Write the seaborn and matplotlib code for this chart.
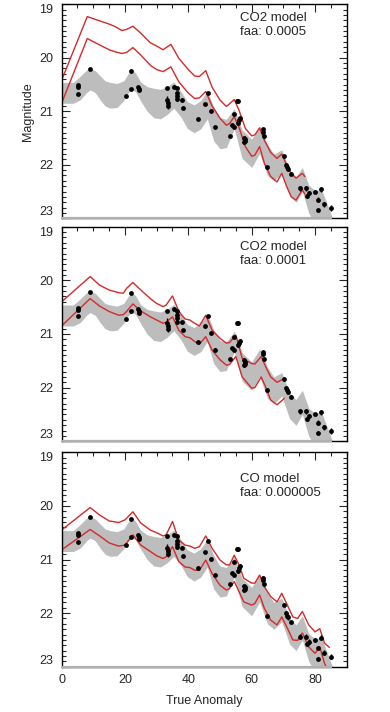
import numpy as np
import matplotlib
matplotlib.use("Agg")
import matplotlib.pyplot as plt
from matplotlib.ticker import MultipleLocator
import seaborn as sns

sns.set_style("white")
plt.rcParams['font.family'] = ['Liberation Sans', 'DejaVu Sans']

# ------------------------ observed magnitudes ------------------------
obs_x = [5.3, 5.3, 5.3, 9.0, 20.4, 21.9, 21.9, 24.0, 24.3, 24.5,
         33.3, 33.4, 33.6, 33.7, 35.4, 36.3, 36.3, 36.3, 36.3, 37.9,
         38.4, 43.1, 45.3, 46.3, 47.1, 48.3, 53.2, 53.7, 54.3, 54.5,
         55.3, 55.7, 55.8, 56.1, 56.4, 57.5, 57.8, 58.0, 57.6, 63.5,
         63.7, 64.0, 64.9, 70.2, 70.9, 71.1, 71.4, 72.3, 75.4, 77.0,
         77.6, 78.0, 80.1, 80.9, 80.9, 81.8, 82.8, 85.1]
obs_mag = [20.51, 20.55, 20.67, 20.21, 20.72, 20.24, 20.58, 20.54, 20.58, 20.61,
           20.57, 20.79, 20.85, 20.90, 20.54, 20.57, 20.65, 20.71, 20.77, 20.78,
           20.93, 21.15, 20.86, 20.66, 20.99, 21.29, 21.46, 21.26, 21.05, 21.29,
           20.80, 20.80, 21.21, 21.16, 21.13, 21.49, 21.52, 21.55, 21.57, 21.34,
           21.38, 21.46, 22.05, 21.84, 22.00, 22.05, 22.08, 22.17, 22.44, 22.44,
           22.58, 22.53, 22.50, 22.65, 22.85, 22.46, 22.74, 22.81]
obs_err = [0.02, 0.02, 0.02, 0.02, 0.02, 0.02, 0.02, 0.02, 0.02, 0.02,
           0.02, 0.08, 0.08, 0.06, 0.03, 0.02, 0.03, 0.03, 0.03, 0.03,
           0.03, 0.02, 0.02, 0.02, 0.03, 0.02, 0.02, 0.02, 0.02, 0.02,
           0.03, 0.03, 0.03, 0.03, 0.03, 0.03, 0.03, 0.04, 0.04, 0.03,
           0.03, 0.03, 0.03, 0.03, 0.04, 0.04, 0.04, 0.03, 0.05, 0.05,
           0.04, 0.04, 0.03, 0.04, 0.03, 0.05, 0.05, 0.05]

# ------------------------ grey envelope ------------------------
band_x = [0, 3.7, 5.8, 7.9, 9.0, 10.6, 12.2, 13.7, 15.3, 17.5, 19.6, 21.1,
          22.2, 23.3, 24.9, 27.0, 29.1, 31.2, 33.3, 35.4, 37.6, 39.7, 41.8,
          43.9, 46.0, 48.0, 50, 52, 54.5, 57, 60, 62.5, 65, 67, 69.5, 72,
          74, 76, 78, 80, 82, 84, 85.5]
band_top = [20.46, 20.46, 20.35, 20.23, 20.20, 20.24, 20.34, 20.43, 20.46, 20.48,
            20.43, 20.29, 20.24, 20.28, 20.45, 20.54, 20.57, 20.59, 20.54, 20.45,
            20.62, 20.82, 20.88, 20.80, 20.62, 20.92, 21.12, 21.15, 20.95, 21.35,
            21.52, 21.28, 21.62, 21.80, 21.72, 22.10, 22.22, 22.05, 22.38, 22.48,
            22.45, 22.76, 23.00]
band_bot = [20.85, 20.85, 20.79, 20.65, 20.60, 20.65, 20.79, 20.90, 20.94, 20.93,
            20.80, 20.65, 20.60, 20.63, 20.80, 21.00, 21.12, 21.14, 21.06, 20.94,
            21.10, 21.32, 21.40, 21.33, 21.14, 21.55, 21.70, 21.68, 21.33, 21.88,
            22.05, 21.79, 22.20, 22.30, 22.16, 22.58, 22.70, 22.50, 22.90, 23.10,
            23.20, 23.30, 23.30]

# ------------------------ model curves ------------------------
co2a_x = [0, 8.1, 12, 15, 17, 19, 20.5, 22.5, 25, 28, 30, 32, 34.5, 37, 40,
          42, 43.5, 45.5, 47.5, 50, 52, 53, 54.5, 56, 58, 60, 61, 62.5, 64,
          66, 68, 69.5, 71, 72.5, 74, 76, 76.8]
co2a_hi = [20.42, 19.23, 19.31, 19.37, 19.42, 19.49, 19.47, 19.41, 19.54, 19.72,
           19.78, 19.85, 19.75, 20.01, 20.22, 20.34, 20.35, 20.24, 20.55, 20.79,
           20.91, 20.86, 20.78, 20.98, 21.32, 21.46, 21.44, 21.31, 21.54, 21.77,
           21.88, 21.80, 22.00, 22.16, 22.25, 22.16, 22.22]
co2a_lo = [20.85, 19.64, 19.76, 19.85, 19.89, 19.92, 19.90, 19.81, 19.95, 20.14,
           20.22, 20.26, 20.17, 20.45, 20.66, 20.76, 20.75, 20.63, 20.90, 21.13,
           21.26, 21.23, 21.10, 21.30, 21.66, 21.84, 21.82, 21.66, 21.97, 22.22,
           22.32, 22.16, 22.40, 22.60, 22.66, 22.47, 22.55]

co2b_x = [0, 9, 12, 15, 18, 19.5, 20.5, 22.5, 25, 28, 30, 32, 33, 35, 37, 39,
          40.5, 42, 43.5, 45.5, 47.5, 50, 52, 53, 55, 57, 60, 61, 63, 64.5,
          66, 68, 70.3]
co2b_hi = [20.40, 19.93, 20.09, 20.18, 20.23, 20.24, 20.15, 20.04, 20.18, 20.34,
           20.43, 20.49, 20.46, 20.29, 20.58, 20.72, 20.74, 20.80, 20.85, 20.65,
           20.93, 21.08, 21.17, 21.16, 21.02, 21.45, 21.55, 21.56, 21.42, 21.62,
           21.80, 21.90, 21.83]
co2b_lo = [20.85, 20.34, 20.48, 20.58, 20.65, 20.64, 20.58, 20.44, 20.57, 20.68,
           20.74, 20.80, 20.78, 20.68, 20.93, 21.05, 21.07, 21.14, 21.19, 21.05,
           21.30, 21.48, 21.58, 21.57, 21.42, 21.80, 22.01, 22.00, 21.80, 22.00,
           22.23, 22.32, 22.20]

co_x = [0, 9, 12, 15, 18, 20, 22.5, 25, 28, 30, 32, 33, 35, 37, 39, 40.5, 42,
        43.5, 45.5, 47.5, 50, 52, 53, 54.5, 56, 57.5, 60, 61, 62.5, 64, 66, 68,
        69.5, 71.5, 73, 74.5, 76, 78, 80, 81.5, 83, 84.5]
co_hi = [20.45, 20.03, 20.17, 20.28, 20.31, 20.26, 20.11, 20.32, 20.45, 20.50,
         20.56, 20.54, 20.29, 20.64, 20.73, 20.75, 20.79, 20.76, 20.56, 20.79,
         21.01, 21.10, 21.10, 20.92, 21.10, 21.35, 21.44, 21.44, 21.29, 21.51,
         21.69, 21.79, 21.63, 21.88, 22.07, 22.10, 21.97, 22.22, 22.35, 22.29,
         22.56, 22.64]
co_lo = [20.82, 20.44, 20.56, 20.69, 20.75, 20.73, 20.54, 20.73, 20.85, 20.93,
         20.98, 20.95, 20.76, 21.04, 21.14, 21.15, 21.20, 21.20, 21.01, 21.26,
         21.48, 21.57, 21.54, 21.41, 21.60, 21.79, 21.85, 21.82, 21.66, 21.91,
         22.13, 22.22, 22.07, 22.31, 22.50, 22.51, 22.37, 22.63, 22.75, 22.63,
         22.94, 23.10]

panels = [
    ("CO2 model\nfaa: 0.0005", co2a_x, co2a_hi, co2a_lo),
    ("CO2 model\nfaa: 0.0001", co2b_x, co2b_hi, co2b_lo),
    ("CO model\nfaa: 0.000005", co_x, co_hi, co_lo),
]

# axes rectangles in figure fraction (left, bottom, width, height)
rects = [(0.158, 0.6934, 0.731, 0.3006),
         (0.158, 0.3802, 0.731, 0.3014),
         (0.158, 0.0636, 0.731, 0.3011)]
label_y = [0.965, 0.935, 0.905]

RED = "#d42a2a"
GREY = "#bdbdbd"
FS = 9

fig = plt.figure(figsize=(3.9, 7.12), dpi=100)

for i, (title, mx, mhi, mlo) in enumerate(panels):
    ax = fig.add_axes(rects[i])
    ax.fill_between(band_x, band_top, band_bot, color=GREY, lw=0, zorder=1)
    sns.lineplot(x=mx, y=mhi, ax=ax, color=RED, lw=1.0, sort=False, zorder=2)
    sns.lineplot(x=mx, y=mlo, ax=ax, color=RED, lw=1.0, sort=False, zorder=2)
    ax.errorbar(obs_x, obs_mag, yerr=obs_err, fmt="none", ecolor="black",
                elinewidth=1.0, capsize=0, zorder=3)
    sns.scatterplot(x=obs_x, y=obs_mag, ax=ax, color="black", s=12,
                    edgecolor="black", linewidth=0, zorder=4)
    # grey baseline where the envelope closes
    ax.plot([0, 85.5], [23, 23], color="#b0b0b0", lw=1.6, zorder=5,
            clip_on=False, solid_capstyle="butt")

    ax.set_xlim(0, 90)
    ax.set_ylim(23, 19)
    ax.xaxis.set_major_locator(MultipleLocator(20))
    ax.xaxis.set_minor_locator(MultipleLocator(5))
    ax.yaxis.set_major_locator(MultipleLocator(1))
    ax.yaxis.set_minor_locator(MultipleLocator(0.1))
    ax.tick_params(which="both", direction="in", top=True, right=True,
                   bottom=False, left=True, width=0.8, labelsize=FS)
    ax.tick_params(which="major", length=6)
    ax.tick_params(which="minor", length=3)
    ax.tick_params(axis="y", pad=6)
    ax.tick_params(axis="x", pad=5, labelbottom=(i == 2))
    for s in ax.spines.values():
        s.set_linewidth(1.0)
        s.set_color("black")

    ax.set_yticks([19, 20, 21, 22, 23])
    ylabels = ax.get_yticklabels()
    ylabels[0].set_verticalalignment("top")
    ylabels[-1].set_verticalalignment("bottom")

    ax.text(0.626, label_y[i], title, transform=ax.transAxes, fontsize=FS + 0.5,
            va="top", ha="left", linespacing=1.25)

    if i == 0:
        ax.set_ylabel("Magnitude", fontsize=FS, labelpad=4)
    if i == 2:
        ax.set_xlabel("True Anomaly", fontsize=FS, labelpad=7)

fig.savefig("out.png", dpi=100)
